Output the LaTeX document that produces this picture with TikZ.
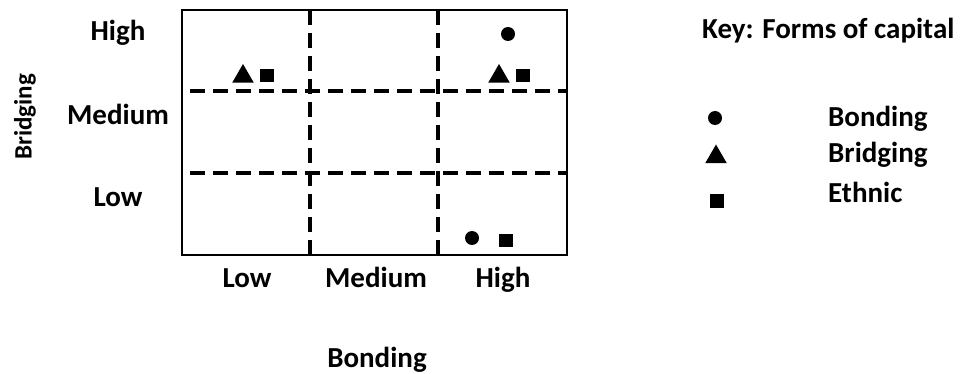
\documentclass[tikz,border=0pt]{standalone}
\usepackage{fontspec}
\setmainfont{Carlito}
\usetikzlibrary{shapes.geometric}

\tikzset{
  lbl/.style={font=\bfseries\fontsize{29}{34}\selectfont,inner sep=0pt,anchor=base},
  bondmark/.style={circle,fill=black,inner sep=0pt,minimum size=14pt},
  bridgemark/.style={regular polygon,regular polygon sides=3,fill=black,inner sep=0pt,minimum size=25pt},
  ethnicmark/.style={rectangle,fill=black,inner sep=0pt,minimum width=14pt,minimum height=13pt},
  cut/.style={line width=3.3pt,dash pattern=on 15pt off 8pt}
}

\begin{document}
\begin{tikzpicture}[x=1pt,y=-1pt]
            \useasboundingbox (0,0) rectangle (963,374);

            \draw[line width=2.3pt] (182,10) coordinate (tl) rectangle (567,255) coordinate (br);
            \foreach \x/\n in {310/a,438/b} {
            \draw[cut] (\x,10) coordinate (top\n) -- (\x,255) coordinate (bot\n);}
            \foreach \y/\n in {91/a,173/b} {
            \draw[cut] (190,\y) coordinate (left\n) -- (567,\y) coordinate (right\n);}

            \foreach \y/\t/\n in {41/High/yh,125/Medium/ym,207/Low/yl} {
            \node[lbl] (\n) at (118,\y) {\t};}
            \foreach \x/\t/\n in {247/Low/xl,376/Medium/xm,503/High/xh} {
            \node[lbl] (\n) at (\x,287) {\t};}
            \node[lbl] (bondaxis) at (377,367) {Bonding};
            \node[font=\bfseries\fontsize{25}{30}\selectfont,inner sep=0pt,rotate=90] (bridgeaxis) at (25,117) {Bridging};

            \node[bridgemark] (tri1) at (243,76.5) {};
            \node[ethnicmark] (sq1) at (267,76) {};
            \node[bondmark] (dot2) at (508,34) {};
            \node[bridgemark] (tri2) at (499,76.5) {};
            \node[ethnicmark] (sq2) at (523,76) {};
            \node[bondmark] (dot3) at (472,238) {};
            \node[ethnicmark] (sq3) at (506,240) {};

            \node[lbl,anchor=base west] (key) at (702,39) {Key: Forms of capital};
            \node[bondmark] (keydot) at (715,118) {};
            \node[bridgemark] (keytri) at (716,157) {};
            \node[ethnicmark] (keysq) at (717,201) {};
            \node[lbl,anchor=base west] (keybond) at (828,127) {Bonding};
            \node[lbl,anchor=base west] (keybridge) at (828,163) {Bridging};
            \node[lbl,anchor=base west] (keyethnic) at (828,202) {Ethnic};
        \end{tikzpicture}
\end{document}
